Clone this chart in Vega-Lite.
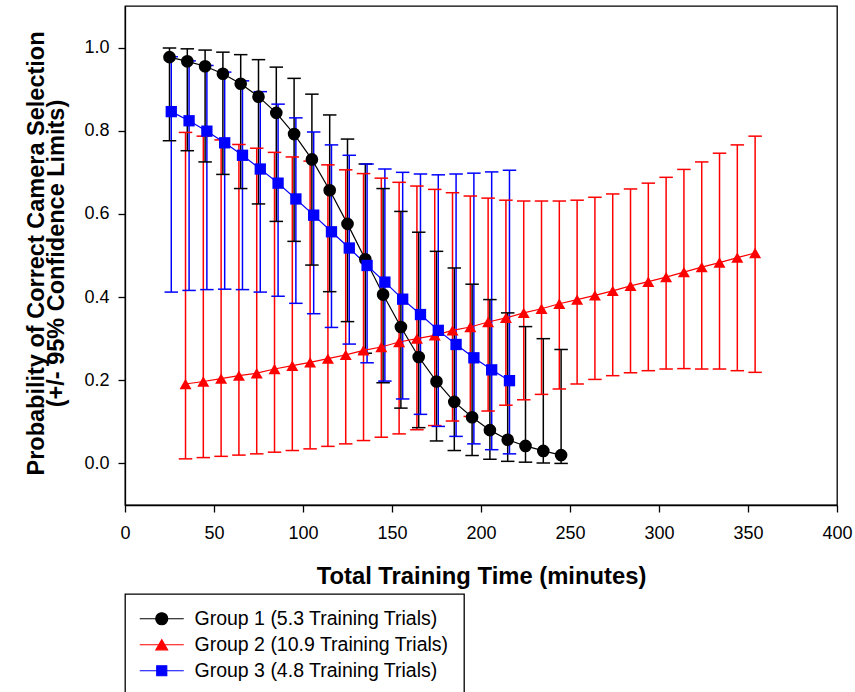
{
  "$schema": "https://vega.github.io/schema/vega-lite/v6.json",
  "width": 712,
  "height": 499,
  "autosize": {"type": "none"},
  "padding": {"left": 125, "top": 6, "right": 18, "bottom": 187},
  "background": "white",
  "config": {
    "font": "Liberation Sans",
    "view": {"stroke": "#000000", "strokeWidth": 1.3},
    "axis": {
      "domainColor": "#000000", "domainWidth": 1.3,
      "tickColor": "#000000", "tickWidth": 1.3, "tickSize": 7,
      "labelColor": "#000000", "labelFont": "Liberation Sans", "labelFontSize": 18,
      "titleColor": "#000000", "titleFont": "Liberation Sans", "titleFontSize": 23.8, "titleFontWeight": "bold",
      "grid": false
    },
    "axisY": {
      "labelPadding": 9,
      "titleX": -82, "titleY": 247, "titleAngle": -90, "titleAlign": "center",
      "titleBaseline": "alphabetic", "titleLineHeight": 20.5, "titleFontSize": 23.5
    }
  },
  "data": {
    "values": [
      {"group": "Group 1 (5.3 Training Trials)", "x": 25, "p": 0.977, "lo": 0.776, "hi": 0.999},
      {"group": "Group 1 (5.3 Training Trials)", "x": 35, "p": 0.967, "lo": 0.752, "hi": 0.997},
      {"group": "Group 1 (5.3 Training Trials)", "x": 45, "p": 0.955, "lo": 0.725, "hi": 0.994},
      {"group": "Group 1 (5.3 Training Trials)", "x": 55, "p": 0.937, "lo": 0.695, "hi": 0.989},
      {"group": "Group 1 (5.3 Training Trials)", "x": 65, "p": 0.913, "lo": 0.661, "hi": 0.983},
      {"group": "Group 1 (5.3 Training Trials)", "x": 75, "p": 0.882, "lo": 0.624, "hi": 0.971},
      {"group": "Group 1 (5.3 Training Trials)", "x": 85, "p": 0.843, "lo": 0.582, "hi": 0.953},
      {"group": "Group 1 (5.3 Training Trials)", "x": 95, "p": 0.792, "lo": 0.534, "hi": 0.926},
      {"group": "Group 1 (5.3 Training Trials)", "x": 105, "p": 0.731, "lo": 0.477, "hi": 0.888},
      {"group": "Group 1 (5.3 Training Trials)", "x": 115, "p": 0.657, "lo": 0.413, "hi": 0.838},
      {"group": "Group 1 (5.3 Training Trials)", "x": 125, "p": 0.576, "lo": 0.341, "hi": 0.780},
      {"group": "Group 1 (5.3 Training Trials)", "x": 135, "p": 0.491, "lo": 0.265, "hi": 0.720},
      {"group": "Group 1 (5.3 Training Trials)", "x": 145, "p": 0.406, "lo": 0.194, "hi": 0.661},
      {"group": "Group 1 (5.3 Training Trials)", "x": 155, "p": 0.328, "lo": 0.133, "hi": 0.606},
      {"group": "Group 1 (5.3 Training Trials)", "x": 165, "p": 0.256, "lo": 0.086, "hi": 0.556},
      {"group": "Group 1 (5.3 Training Trials)", "x": 175, "p": 0.197, "lo": 0.054, "hi": 0.510},
      {"group": "Group 1 (5.3 Training Trials)", "x": 185, "p": 0.148, "lo": 0.031, "hi": 0.470},
      {"group": "Group 1 (5.3 Training Trials)", "x": 195, "p": 0.111, "lo": 0.019, "hi": 0.431},
      {"group": "Group 1 (5.3 Training Trials)", "x": 205, "p": 0.080, "lo": 0.010, "hi": 0.394},
      {"group": "Group 1 (5.3 Training Trials)", "x": 215, "p": 0.057, "lo": 0.005, "hi": 0.362},
      {"group": "Group 1 (5.3 Training Trials)", "x": 225, "p": 0.042, "lo": 0.003, "hi": 0.329},
      {"group": "Group 1 (5.3 Training Trials)", "x": 235, "p": 0.030, "lo": 0.001, "hi": 0.300},
      {"group": "Group 1 (5.3 Training Trials)", "x": 245, "p": 0.020, "lo": 0.000, "hi": 0.274},
      {"group": "Group 2 (10.9 Training Trials)", "x": 34, "p": 0.191, "lo": 0.011, "hi": 0.796},
      {"group": "Group 2 (10.9 Training Trials)", "x": 44, "p": 0.197, "lo": 0.014, "hi": 0.787},
      {"group": "Group 2 (10.9 Training Trials)", "x": 54, "p": 0.204, "lo": 0.017, "hi": 0.778},
      {"group": "Group 2 (10.9 Training Trials)", "x": 64, "p": 0.211, "lo": 0.020, "hi": 0.767},
      {"group": "Group 2 (10.9 Training Trials)", "x": 74, "p": 0.217, "lo": 0.023, "hi": 0.758},
      {"group": "Group 2 (10.9 Training Trials)", "x": 84, "p": 0.227, "lo": 0.027, "hi": 0.748},
      {"group": "Group 2 (10.9 Training Trials)", "x": 94, "p": 0.235, "lo": 0.031, "hi": 0.737},
      {"group": "Group 2 (10.9 Training Trials)", "x": 104, "p": 0.243, "lo": 0.035, "hi": 0.727},
      {"group": "Group 2 (10.9 Training Trials)", "x": 114, "p": 0.252, "lo": 0.041, "hi": 0.718},
      {"group": "Group 2 (10.9 Training Trials)", "x": 124, "p": 0.261, "lo": 0.047, "hi": 0.706},
      {"group": "Group 2 (10.9 Training Trials)", "x": 134, "p": 0.272, "lo": 0.055, "hi": 0.697},
      {"group": "Group 2 (10.9 Training Trials)", "x": 144, "p": 0.280, "lo": 0.063, "hi": 0.686},
      {"group": "Group 2 (10.9 Training Trials)", "x": 154, "p": 0.292, "lo": 0.071, "hi": 0.676},
      {"group": "Group 2 (10.9 Training Trials)", "x": 164, "p": 0.300, "lo": 0.081, "hi": 0.667},
      {"group": "Group 2 (10.9 Training Trials)", "x": 174, "p": 0.308, "lo": 0.091, "hi": 0.659},
      {"group": "Group 2 (10.9 Training Trials)", "x": 184, "p": 0.320, "lo": 0.102, "hi": 0.651},
      {"group": "Group 2 (10.9 Training Trials)", "x": 194, "p": 0.328, "lo": 0.113, "hi": 0.643},
      {"group": "Group 2 (10.9 Training Trials)", "x": 204, "p": 0.340, "lo": 0.126, "hi": 0.638},
      {"group": "Group 2 (10.9 Training Trials)", "x": 214, "p": 0.350, "lo": 0.140, "hi": 0.633},
      {"group": "Group 2 (10.9 Training Trials)", "x": 224, "p": 0.362, "lo": 0.153, "hi": 0.631},
      {"group": "Group 2 (10.9 Training Trials)", "x": 234, "p": 0.372, "lo": 0.166, "hi": 0.631},
      {"group": "Group 2 (10.9 Training Trials)", "x": 244, "p": 0.384, "lo": 0.179, "hi": 0.631},
      {"group": "Group 2 (10.9 Training Trials)", "x": 254, "p": 0.394, "lo": 0.191, "hi": 0.633},
      {"group": "Group 2 (10.9 Training Trials)", "x": 264, "p": 0.404, "lo": 0.202, "hi": 0.640},
      {"group": "Group 2 (10.9 Training Trials)", "x": 274, "p": 0.415, "lo": 0.211, "hi": 0.648},
      {"group": "Group 2 (10.9 Training Trials)", "x": 284, "p": 0.427, "lo": 0.218, "hi": 0.660},
      {"group": "Group 2 (10.9 Training Trials)", "x": 294, "p": 0.437, "lo": 0.223, "hi": 0.674},
      {"group": "Group 2 (10.9 Training Trials)", "x": 304, "p": 0.448, "lo": 0.227, "hi": 0.688},
      {"group": "Group 2 (10.9 Training Trials)", "x": 314, "p": 0.460, "lo": 0.228, "hi": 0.707},
      {"group": "Group 2 (10.9 Training Trials)", "x": 324, "p": 0.472, "lo": 0.227, "hi": 0.725},
      {"group": "Group 2 (10.9 Training Trials)", "x": 334, "p": 0.483, "lo": 0.227, "hi": 0.746},
      {"group": "Group 2 (10.9 Training Trials)", "x": 344, "p": 0.495, "lo": 0.223, "hi": 0.766},
      {"group": "Group 2 (10.9 Training Trials)", "x": 354, "p": 0.506, "lo": 0.219, "hi": 0.787},
      {"group": "Group 3 (4.8 Training Trials)", "x": 26, "p": 0.846, "lo": 0.412, "hi": 0.978},
      {"group": "Group 3 (4.8 Training Trials)", "x": 36, "p": 0.824, "lo": 0.416, "hi": 0.968},
      {"group": "Group 3 (4.8 Training Trials)", "x": 46, "p": 0.799, "lo": 0.418, "hi": 0.957},
      {"group": "Group 3 (4.8 Training Trials)", "x": 56, "p": 0.771, "lo": 0.419, "hi": 0.941},
      {"group": "Group 3 (4.8 Training Trials)", "x": 66, "p": 0.741, "lo": 0.418, "hi": 0.920},
      {"group": "Group 3 (4.8 Training Trials)", "x": 76, "p": 0.708, "lo": 0.412, "hi": 0.894},
      {"group": "Group 3 (4.8 Training Trials)", "x": 86, "p": 0.674, "lo": 0.402, "hi": 0.864},
      {"group": "Group 3 (4.8 Training Trials)", "x": 96, "p": 0.636, "lo": 0.385, "hi": 0.831},
      {"group": "Group 3 (4.8 Training Trials)", "x": 106, "p": 0.597, "lo": 0.360, "hi": 0.797},
      {"group": "Group 3 (4.8 Training Trials)", "x": 116, "p": 0.557, "lo": 0.327, "hi": 0.766},
      {"group": "Group 3 (4.8 Training Trials)", "x": 126, "p": 0.518, "lo": 0.287, "hi": 0.741},
      {"group": "Group 3 (4.8 Training Trials)", "x": 136, "p": 0.476, "lo": 0.242, "hi": 0.720},
      {"group": "Group 3 (4.8 Training Trials)", "x": 146, "p": 0.436, "lo": 0.198, "hi": 0.708},
      {"group": "Group 3 (4.8 Training Trials)", "x": 156, "p": 0.395, "lo": 0.155, "hi": 0.700},
      {"group": "Group 3 (4.8 Training Trials)", "x": 166, "p": 0.358, "lo": 0.118, "hi": 0.696},
      {"group": "Group 3 (4.8 Training Trials)", "x": 176, "p": 0.320, "lo": 0.089, "hi": 0.694},
      {"group": "Group 3 (4.8 Training Trials)", "x": 186, "p": 0.286, "lo": 0.065, "hi": 0.696},
      {"group": "Group 3 (4.8 Training Trials)", "x": 196, "p": 0.254, "lo": 0.047, "hi": 0.698},
      {"group": "Group 3 (4.8 Training Trials)", "x": 206, "p": 0.225, "lo": 0.033, "hi": 0.701},
      {"group": "Group 3 (4.8 Training Trials)", "x": 216, "p": 0.199, "lo": 0.023, "hi": 0.705}
    ]
  },
  "encoding": {
    "x": {
      "field": "x", "type": "quantitative",
      "scale": {"domain": [0, 400], "nice": false, "zero": false},
      "axis": {
        "values": [0, 50, 100, 150, 200, 250, 300, 350, 400],
        "title": "Total Training Time (minutes)",
        "labelPadding": 12,
        "labelFlush": false,
        "titleX": 356, "titleY": 78, "titleAlign": "center", "titleBaseline": "alphabetic"
      }
    },
    "y": {
      "field": "p", "type": "quantitative",
      "scale": {"domain": [-0.1, 1.1], "nice": false, "zero": false},
      "axis": {
        "values": [0, 0.2, 0.4, 0.6, 0.8, 1.0], "format": ".1f",
        "title": ["Probability of Correct Camera Selection", "(+/- 95% Confidence Limits)"]
      }
    },
    "color": {
      "field": "group", "type": "nominal",
      "scale": {
        "domain": ["Group 1 (5.3 Training Trials)", "Group 2 (10.9 Training Trials)", "Group 3 (4.8 Training Trials)"],
        "range": ["#000000", "#ff0000", "#0000ff"]
      },
      "legend": {
        "orient": "none", "legendX": 0, "legendY": 588,
        "title": null,
        "strokeColor": "#000000", "fillColor": "#ffffff",
        "padding": 15,
        "labelFont": "Liberation Sans", "labelFontSize": 19.5, "labelColor": "#000000", "labelLimit": 400,
        "symbolSize": 169, "symbolOffset": 12, "labelOffset": 23, "rowPadding": 5,
        "symbolStrokeWidth": 1.2,
        "encode": {
          "legend": {"update": {"strokeWidth": {"value": 1.3}}},
          "symbols": {
            "update": {
              "shape": {"signal": "indexof(datum.value, 'Group 1') === 0 ? 'M-3.385,0L3.385,0M0.923,0A0.923,0.923,0,1,1,-0.923,0A0.923,0.923,0,1,1,0.923,0Z' : indexof(datum.value, 'Group 2') === 0 ? 'M-3.385,0L3.385,0M-0.9,0.78L0.9,0.78L0,-0.78Z' : 'M-3.385,0L3.385,0M-0.77,-0.77L0.77,-0.77L0.77,0.77L-0.77,0.77Z'"},
              "fill": {"scale": "color", "field": "value"},
              "stroke": {"scale": "color", "field": "value"},
              "strokeWidth": {"value": 1.2},
              "opacity": {"value": 1},
              "fillOpacity": {"value": 1},
              "strokeOpacity": {"value": 1}
            }
          }
        }
      }
    }
  },
  "layer": [
    {
      "mark": {"type": "rule", "strokeWidth": 1.5},
      "encoding": {
        "y": {"field": "lo", "type": "quantitative"},
        "y2": {"field": "hi"}
      }
    },
    {
      "mark": {"type": "point", "shape": "stroke", "size": 182, "strokeWidth": 1.5, "filled": false, "opacity": 1},
      "encoding": {"y": {"field": "lo", "type": "quantitative"}}
    },
    {
      "mark": {"type": "point", "shape": "stroke", "size": 182, "strokeWidth": 1.5, "filled": false, "opacity": 1},
      "encoding": {"y": {"field": "hi", "type": "quantitative"}}
    },
    {
      "mark": {"type": "line", "strokeWidth": 1.2}
    },
    {
      "transform": [{"filter": "datum.group === 'Group 1 (5.3 Training Trials)'"}],
      "mark": {"type": "point", "shape": "circle", "size": 160, "filled": true, "opacity": 1, "strokeWidth": 0}
    },
    {
      "transform": [{"filter": "datum.group === 'Group 2 (10.9 Training Trials)'"}],
      "mark": {"type": "point", "shape": "M-1,0.866L1,0.866L0,-0.866Z", "size": 144, "filled": true, "opacity": 1, "strokeWidth": 0}
    },
    {
      "transform": [{"filter": "datum.group === 'Group 3 (4.8 Training Trials)'"}],
      "mark": {"type": "point", "shape": "square", "size": 128, "filled": true, "opacity": 1, "strokeWidth": 0}
    }
  ]
}
